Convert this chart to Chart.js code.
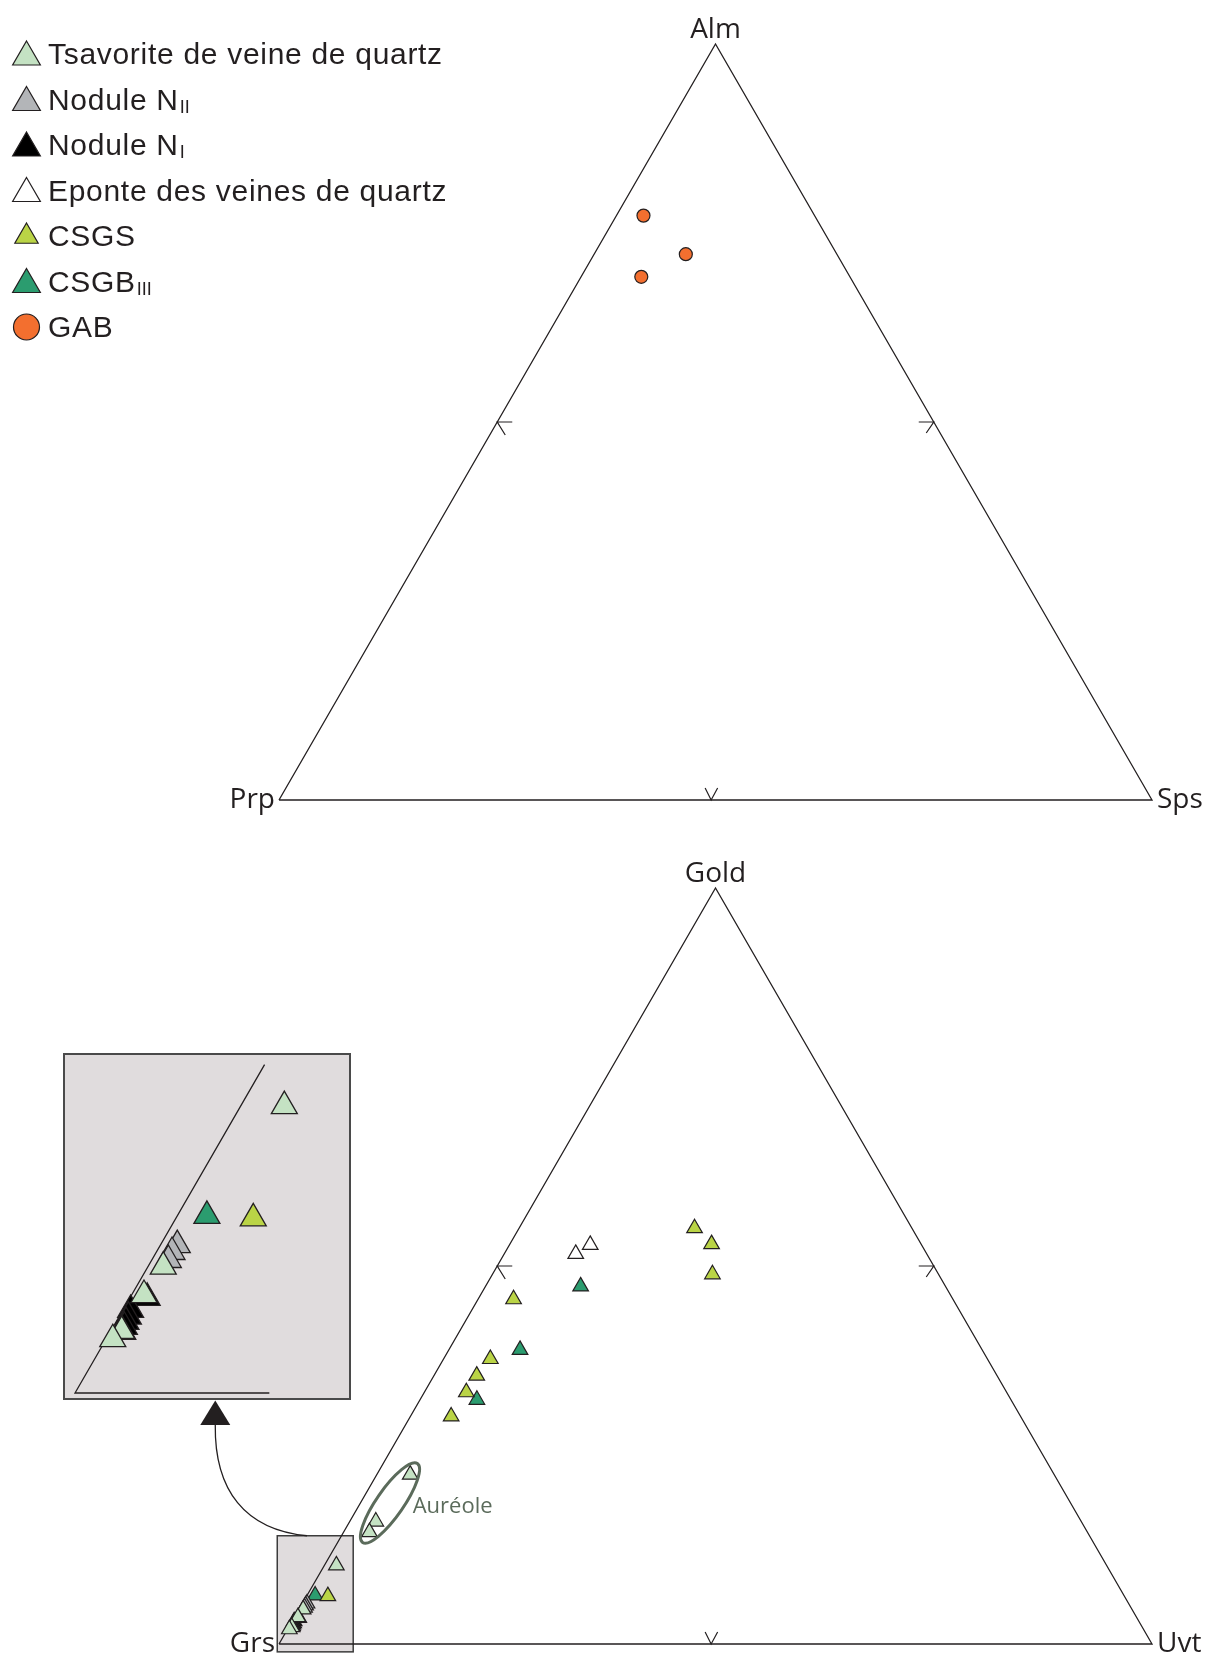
<!DOCTYPE html>
<html>
<head>
<meta charset="utf-8">
<script src="https://cdn.jsdelivr.net/npm/chart.js@4.4.1/dist/chart.umd.min.js"></script>
<style>
  html, body { margin: 0; padding: 0; background: #fff; }
  #page { position: relative; width: 1208px; height: 1660px; }
  canvas { position: absolute; }
  #cTop { left: 0; top: 0; }
  #cBot { left: 0; top: 840px; }
  #cZoom { left: 63px; top: 1053px; }
</style>
</head>
<body>
<div id="page">
  <canvas id="cTop" width="1208" height="840"></canvas>
  <canvas id="cBot" width="1208" height="820"></canvas>
  <canvas id="cZoom" width="288" height="347"></canvas>
</div>
<script>
// Diagramme Alm - Prp - Sps (sommet, gauche, droite), valeurs en %
const topApex = ["Alm", "Prp", "Sps"];
const gabAlm = [77.3, 72.2, 69.2];
const gabSps = [3.1, 10.5, 6.9];

// Diagramme Gold - Grs - Uvt, valeurs en % (Grs = 100 - Gold - Uvt)
const botApex = ["Gold", "Grs", "Uvt"];
const tsavGold = [22.4, 16.2, 14.8, 10.4, 4.58, 3.55, 2.25, 1.95];
const tsavUvt = [3.83, 2.99, 2.96, 1.37, 0.48, 0.39, 0.34, 0.21];
const n2Gold = [5.36, 5.11, 4.82];
const n2Uvt = [0.53, 0.49, 0.52];
const n1Gold = [3.45, 3.01, 2.77, 2.58, 2.4, 2.22];
const n1Uvt = [0.54, 0.24, 0.29, 0.31, 0.35, 0.39];
const eponteGold = [52.8, 51.6];
const eponteUvt = [9.25, 8.19];
const csgsGold = [55.0, 52.9, 48.9, 45.6, 37.7, 35.5, 33.3, 30.1, 6.33];
const csgsUvt = [20.1, 23.1, 25.2, 4.07, 5.36, 4.9, 4.81, 4.67, 2.43];
const csgbGold = [47.3, 38.9, 32.3, 6.42];
const csgbUvt = [10.9, 8.16, 6.52, 0.93];

// Légende
const seriesNames = ["Tsavorite de veine de quartz", "Nodule N", "Nodule N",
  "Eponte des veines de quartz", "CSGS", "CSGB", "GAB"];
const seriesSubs = ["", "II", "I", "", "", "III", ""];
const seriesFill = ["#c4e2c3", "#b3b5b8", "#000000", "#ffffff", "#bad446", "#2b9c6f", "#f36f2f"];
const seriesShape = ["triangle", "triangle", "triangle", "triangle", "triangle", "triangle", "circle"];

const botGold = [tsavGold, n2Gold, n1Gold, eponteGold, csgsGold, csgbGold];
const botUvt = [tsavUvt, n2Uvt, n1Uvt, eponteUvt, csgsUvt, csgbUvt];

const INK = "#231f20";
const H = 50 * Math.sqrt(3);

// composition ternaire -> coordonnées cartésiennes (côté = 100)
function toXY(apex, right) {
  return { x: right + apex / 2, y: apex * Math.sqrt(3) / 2 };
}
function pts(apex, right) {
  return apex.map((a, i) => toXY(a, right[i]));
}
function frameDataset(data, width) {
  return {
    label: "cadre",
    data: data,
    showLine: true,
    pointRadius: 0,
    borderColor: INK,
    borderWidth: width,
    fill: false,
    tension: 0,
    clip: false,
  };
}

const ternaryDeco = {
  id: "ternaryDeco",
  afterDatasetsDraw(chart, args, o) {
    const { ctx, scales: { x, y } } = chart;
    const px = (p) => [x.getPixelForValue(p.x), y.getPixelForValue(p.y)];
    const top = px(toXY(100, 0)), left = px(toXY(0, 0)), right = px(toXY(0, 100));
    ctx.save();
    ctx.fillStyle = INK;
    ctx.font = "28px 'Open Sans', 'Noto Sans', sans-serif";
    ctx.textBaseline = "alphabetic";
    ctx.textAlign = "center";
    ctx.fillText(o.names[0], top[0], top[1] - 6);
    ctx.textAlign = "right";
    ctx.fillText(o.names[1], left[0] - 4, left[1] + 8);
    ctx.textAlign = "left";
    ctx.fillText(o.names[2], right[0] + 5, right[1] + 8);

    // petites flèches au milieu des côtés
    ctx.strokeStyle = INK;
    ctx.lineWidth = 1.2;
    const arrow = (p, legs) => {
      ctx.beginPath();
      ctx.moveTo(p[0] + legs[0][0], p[1] + legs[0][1]);
      ctx.lineTo(p[0], p[1]);
      ctx.lineTo(p[0] + legs[1][0], p[1] + legs[1][1]);
      ctx.stroke();
    };
    arrow(px(toXY(50, 0)), [[15, 0], [8, 13]]);
    arrow(px(toXY(50, 50)), [[-15, 0], [-7.5, 11]]);
    arrow(px(toXY(0, 49.5)), [[-6, -12], [6.5, -12]]);
    ctx.restore();
  },
};

const legendPlugin = {
  id: "legendeMaison",
  afterDraw(chart) {
    const ctx = chart.ctx;
    ctx.save();
    seriesNames.forEach((name, i) => {
      const base = 64 + i * 45.5;
      const tri = seriesShape[i] === "triangle";
      const r = tri ? (i === 4 ? 13.5 : 16) : 13;
      const cy = tri ? base - (i === 4 ? 9.5 : 7) : base - 10;
      ctx.fillStyle = seriesFill[i];
      ctx.strokeStyle = INK;
      ctx.lineWidth = 1.2;
      Chart.helpers.drawPoint(ctx, { pointStyle: seriesShape[i], radius: r, rotation: 0, borderWidth: 1.2 }, 26.5, cy);
      ctx.fillStyle = INK;
      ctx.font = "30px 'Liberation Sans', Arial, sans-serif";
      ctx.letterSpacing = "0.7px";
      ctx.textAlign = "left";
      ctx.textBaseline = "alphabetic";
      ctx.fillText(name, 48, base);
      if (seriesSubs[i]) {
        const w = ctx.measureText(name).width;
        ctx.font = "18px 'Liberation Sans', Arial, sans-serif";
        ctx.letterSpacing = "0px";
        ctx.fillText(seriesSubs[i], 48 + w + 1, base + 3);
      }
    });
    ctx.restore();
  },
};

const zoomDeco = {
  id: "zoomDeco",
  beforeDatasetsDraw(chart, args, o) {
    const { ctx, scales: { x, y } } = chart;
    const b = o.box;
    const x0 = x.getPixelForValue(b[0]), x1 = x.getPixelForValue(b[1]);
    const y0 = y.getPixelForValue(b[3]), y1 = y.getPixelForValue(b[2]);
    ctx.save();
    ctx.fillStyle = "#e0dcdd";
    ctx.fillRect(x0, y0, x1 - x0, y1 - y0);
    ctx.strokeStyle = "#3c3c3c";
    ctx.lineWidth = 1.5;
    ctx.strokeRect(x0, y0, x1 - x0, y1 - y0);
    ctx.restore();
  },
  afterDatasetsDraw(chart, args, o) {
    const { ctx, scales: { x, y } } = chart;
    const px = (p) => [x.getPixelForValue(p[0]), y.getPixelForValue(p[1])];
    ctx.save();
    // courbe vers l'encart
    const c = o.curve.map(px);
    ctx.strokeStyle = INK;
    ctx.lineWidth = 1.3;
    ctx.beginPath();
    ctx.moveTo(c[0][0], c[0][1]);
    ctx.bezierCurveTo(c[1][0], c[1][1], c[2][0], c[2][1], c[3][0], c[3][1]);
    ctx.stroke();
    const tip = px(o.tip);
    const baseY = c[3][1];
    ctx.fillStyle = INK;
    ctx.beginPath();
    ctx.moveTo(tip[0], tip[1]);
    ctx.lineTo(tip[0] + 15, baseY);
    ctx.lineTo(tip[0] - 15, baseY);
    ctx.closePath();
    ctx.fill();

    // Auréole
    const e = toXY(o.halo[0], o.halo[1]);
    const ec = px([e.x, e.y]);
    ctx.strokeStyle = "#5b6b5b";
    ctx.lineWidth = 3;
    ctx.beginPath();
    ctx.ellipse(ec[0], ec[1], 48, 13.5, -55.2 * Math.PI / 180, 0, Math.PI * 2);
    ctx.stroke();
    const t = toXY(o.haloText[0], o.haloText[1]);
    const tp = px([t.x, t.y]);
    ctx.fillStyle = "#5b6b5b";
    ctx.font = "22px 'Open Sans', 'Noto Sans', sans-serif";
    ctx.textAlign = "left";
    ctx.fillText("Auréole", tp[0], tp[1]);
    ctx.restore();
  },
};

const insetBg = {
  id: "insetBg",
  beforeDraw(chart) {
    const ctx = chart.ctx;
    ctx.save();
    ctx.fillStyle = "#e0dcdd";
    ctx.fillRect(0, 0, chart.width, chart.height);
    ctx.restore();
  },
  afterDraw(chart) {
    const ctx = chart.ctx;
    ctx.save();
    ctx.strokeStyle = "#4a4a4a";
    ctx.lineWidth = 2;
    ctx.strokeRect(1, 1, chart.width - 2, chart.height - 2);
    ctx.restore();
  },
};

function pointSets(radius, bw) {
  return botGold.map((g, i) => ({
    label: seriesNames[i] + seriesSubs[i],
    data: pts(g, botUvt[i]),
    pointStyle: "triangle",
    pointRadius: radius,
    backgroundColor: seriesFill[i],
    borderColor: INK,
    borderWidth: bw,
    clip: false,
  }));
}

function baseOptions(padding, xr, yr) {
  return {
    responsive: false,
    animation: false,
    devicePixelRatio: 1,
    events: [],
    layout: { padding: padding, autoPadding: false },
    scales: {
      x: { type: "linear", min: xr[0], max: xr[1], display: false },
      y: { type: "linear", min: yr[0], max: yr[1], display: false },
    },
    plugins: { legend: { display: false }, tooltip: { enabled: false } },
  };
}

// diagramme du haut
const optTop = baseOptions({ left: 279, right: 56, top: 44, bottom: 40 }, [0, 100], [0, H]);
optTop.plugins.ternaryDeco = { names: topApex };
new Chart(document.getElementById("cTop"), {
  type: "scatter",
  data: {
    datasets: [
      {
        label: "GAB",
        data: pts(gabAlm, gabSps),
        pointStyle: "circle",
        pointRadius: 6.5,
        backgroundColor: seriesFill[6],
        borderColor: INK,
        borderWidth: 1.2,
        clip: false,
      },
      frameDataset([toXY(0, 0), toXY(0, 100), toXY(100, 0), toXY(0, 0)], 1.3),
    ],
  },
  options: optTop,
  plugins: [ternaryDeco, legendPlugin],
});

// diagramme du bas
const optBot = baseOptions({ left: 279, right: 56, top: 48, bottom: 16 }, [0, 100], [0, H]);
optBot.plugins.ternaryDeco = { names: botApex };
optBot.plugins.zoomDeco = {
  box: [-0.2, 8.5, -0.9, 12.4],
  curve: [[3.2, 12.4], [-3.9, 13.1], [-7.4, 17.6], [-7.3, 25.1]],
  tip: [-7.3, 27.9],
  halo: [18.65, 3.39],
  haloText: [17.33, 6.65],
};
new Chart(document.getElementById("cBot"), {
  type: "scatter",
  data: {
    datasets: pointSets(9, 1.2).concat([
      frameDataset([toXY(0, 0), toXY(0, 100), toXY(100, 0), toXY(0, 0)], 1.3),
    ]),
  },
  options: optBot,
  plugins: [ternaryDeco, zoomDeco],
});

// encart agrandi autour de Grs
const optZoom = baseOptions(0, [-0.377, 8.663], [-0.22, 10.672]);
new Chart(document.getElementById("cZoom"), {
  type: "scatter",
  data: {
    datasets: pointSets(15, 1.3).concat([
      frameDataset([toXY(0, 6.1), toXY(0, 0), toXY(11.9, 0)], 1.3),
    ]),
  },
  options: optZoom,
  plugins: [insetBg],
});
</script>
</body>
</html>
